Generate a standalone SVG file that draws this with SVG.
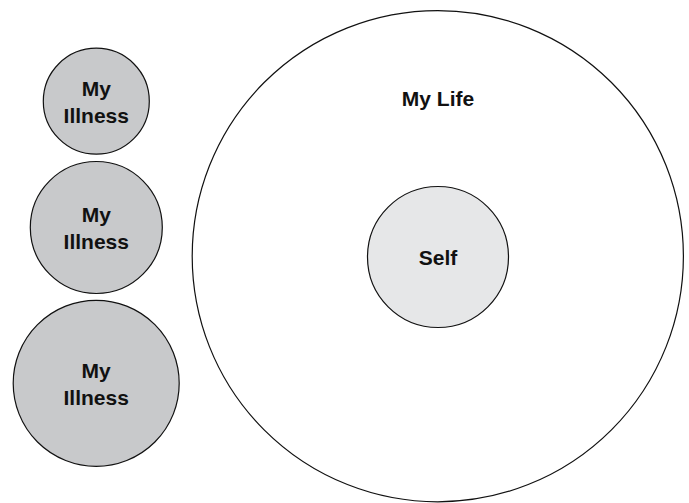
<svg xmlns="http://www.w3.org/2000/svg" width="689" height="503" viewBox="0 0 689 503">
<style>
.c{stroke:#111;stroke-width:1.2}
.ill{fill:#c8c9cb}
.self{fill:#e6e7e8}
.life{fill:#fff}
text{font-family:"Liberation Sans",Arial,sans-serif;font-weight:bold;font-size:21px;fill:#111;text-anchor:middle}
</style>
<rect width="689" height="503" fill="#fff"/>
<g id="life">
<circle class="c life" cx="437.8" cy="256.2" r="245.6"/>
<text x="438" y="106">My Life</text>
</g>
<g id="self">
<circle class="c self" cx="438" cy="257" r="70.5"/>
<text x="438" y="265">Self</text>
</g>
<g id="illness1">
<circle class="c ill" cx="96.3" cy="101.2" r="53"/>
<text x="96.3" y="96">My</text>
<text x="96.3" y="123">Illness</text>
</g>
<g id="illness2">
<circle class="c ill" cx="96.3" cy="227.5" r="66"/>
<text x="96.3" y="222">My</text>
<text x="96.3" y="249">Illness</text>
</g>
<g id="illness3">
<circle class="c ill" cx="96.2" cy="383.3" r="83"/>
<text x="96.2" y="378">My</text>
<text x="96.2" y="405">Illness</text>
</g>
<g id="connectors"></g>
</svg>
